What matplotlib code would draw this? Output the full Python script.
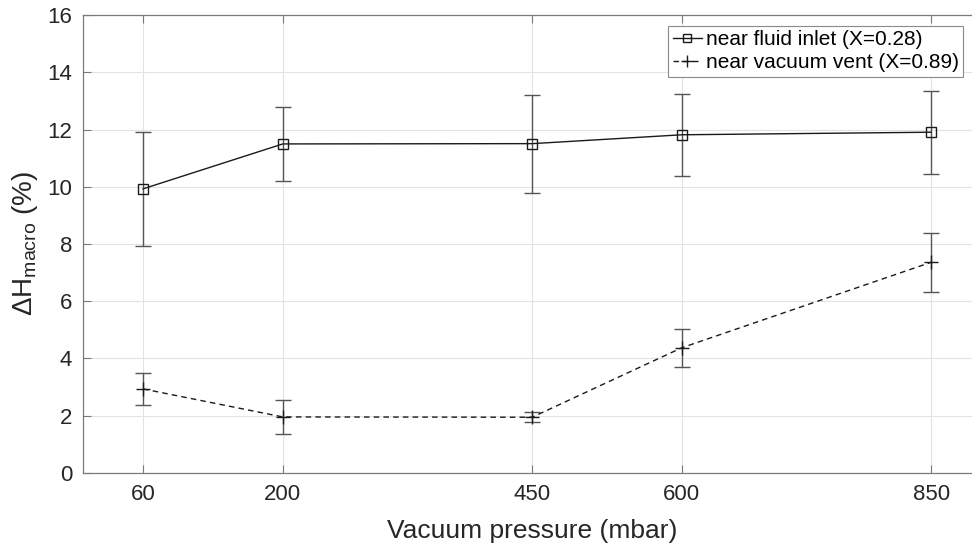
import matplotlib
matplotlib.use("Agg")
from matplotlib import pyplot as plt

# Data
pressure = [60, 200, 450, 600, 850]
inlet_mean = [9.93, 11.50, 11.51, 11.82, 11.91]
inlet_err = [2.00, 1.29, 1.71, 1.44, 1.45]
vent_mean = [2.93, 1.95, 1.94, 4.37, 7.36]
vent_err = [0.57, 0.60, 0.18, 0.66, 1.03]
xticks = [60, 200, 450, 600, 850]
yticks = list(range(0, 17, 2))

plt.rcParams['font.family'] = ['Liberation Sans', 'DejaVu Sans']
plt.rcParams['mathtext.fontset'] = 'custom'
plt.rcParams['mathtext.rm'] = 'Liberation Sans'
plt.rcParams['mathtext.it'] = 'Liberation Sans:italic'

axcol = '#7a7a7a'
txtcol = '#262626'

fig = plt.figure(figsize=(9.72, 5.44), dpi=100)
# axes runs a little past the right edge, as in the reference
ax = fig.add_axes([0.0857, 0.1311, 0.9236, 0.8408])

e1 = ax.errorbar(pressure, inlet_mean, yerr=inlet_err, color='#1a1a1a', lw=1,
                 marker='s', markersize=7, markerfacecolor='none', markeredgewidth=1,
                 ecolor='#555555', elinewidth=1, capsize=6, capthick=1)
e2 = ax.errorbar(pressure, vent_mean, yerr=vent_err, color='#1a1a1a', lw=1,
                 linestyle=(0, (4, 3)), marker='+', markersize=10, markeredgewidth=1,
                 ecolor='#555555', elinewidth=1, capsize=6, capthick=1)

ax.set_xlim(0, 900)
ax.set_ylim(0, 16)
ax.set_xticks(xticks)
ax.set_yticks(yticks)
ax.grid(True, color='#e3e3e3', lw=0.8)
ax.set_axisbelow(True)

ax.tick_params(direction='in', length=6, width=0.8, color=axcol,
               labelcolor=txtcol, labelsize=16, top=True, right=True, pad=8)
for s in ax.spines.values():
    s.set_color(axcol)
    s.set_linewidth(0.9)

ax.set_xlabel('Vacuum pressure (mbar)', fontsize=19, color=txtcol, labelpad=10)
ax.set_ylabel(r'$\Delta$H$_{\mathrm{macro}}$ (%)', fontsize=20, color=txtcol, labelpad=5)

# legend shows only line + marker, no error bars
leg = ax.legend([e1[0], e2[0]],
                ['near fluid inlet (X=0.28)', 'near vacuum vent (X=0.89)'],
                loc='upper right', bbox_to_anchor=(963 / 972, 1 - 26 / 544),
                bbox_transform=fig.transFigure, fontsize=15, frameon=True,
                fancybox=False, framealpha=1, edgecolor='#8a8a8a',
                handlelength=1.4, handletextpad=0.2, borderpad=0.2,
                labelspacing=0.2, borderaxespad=0, markerscale=0.8)
leg.get_frame().set_linewidth(0.8)
for t in leg.get_texts():
    t.set_color('black')

fig.savefig('out.png', dpi=100)
